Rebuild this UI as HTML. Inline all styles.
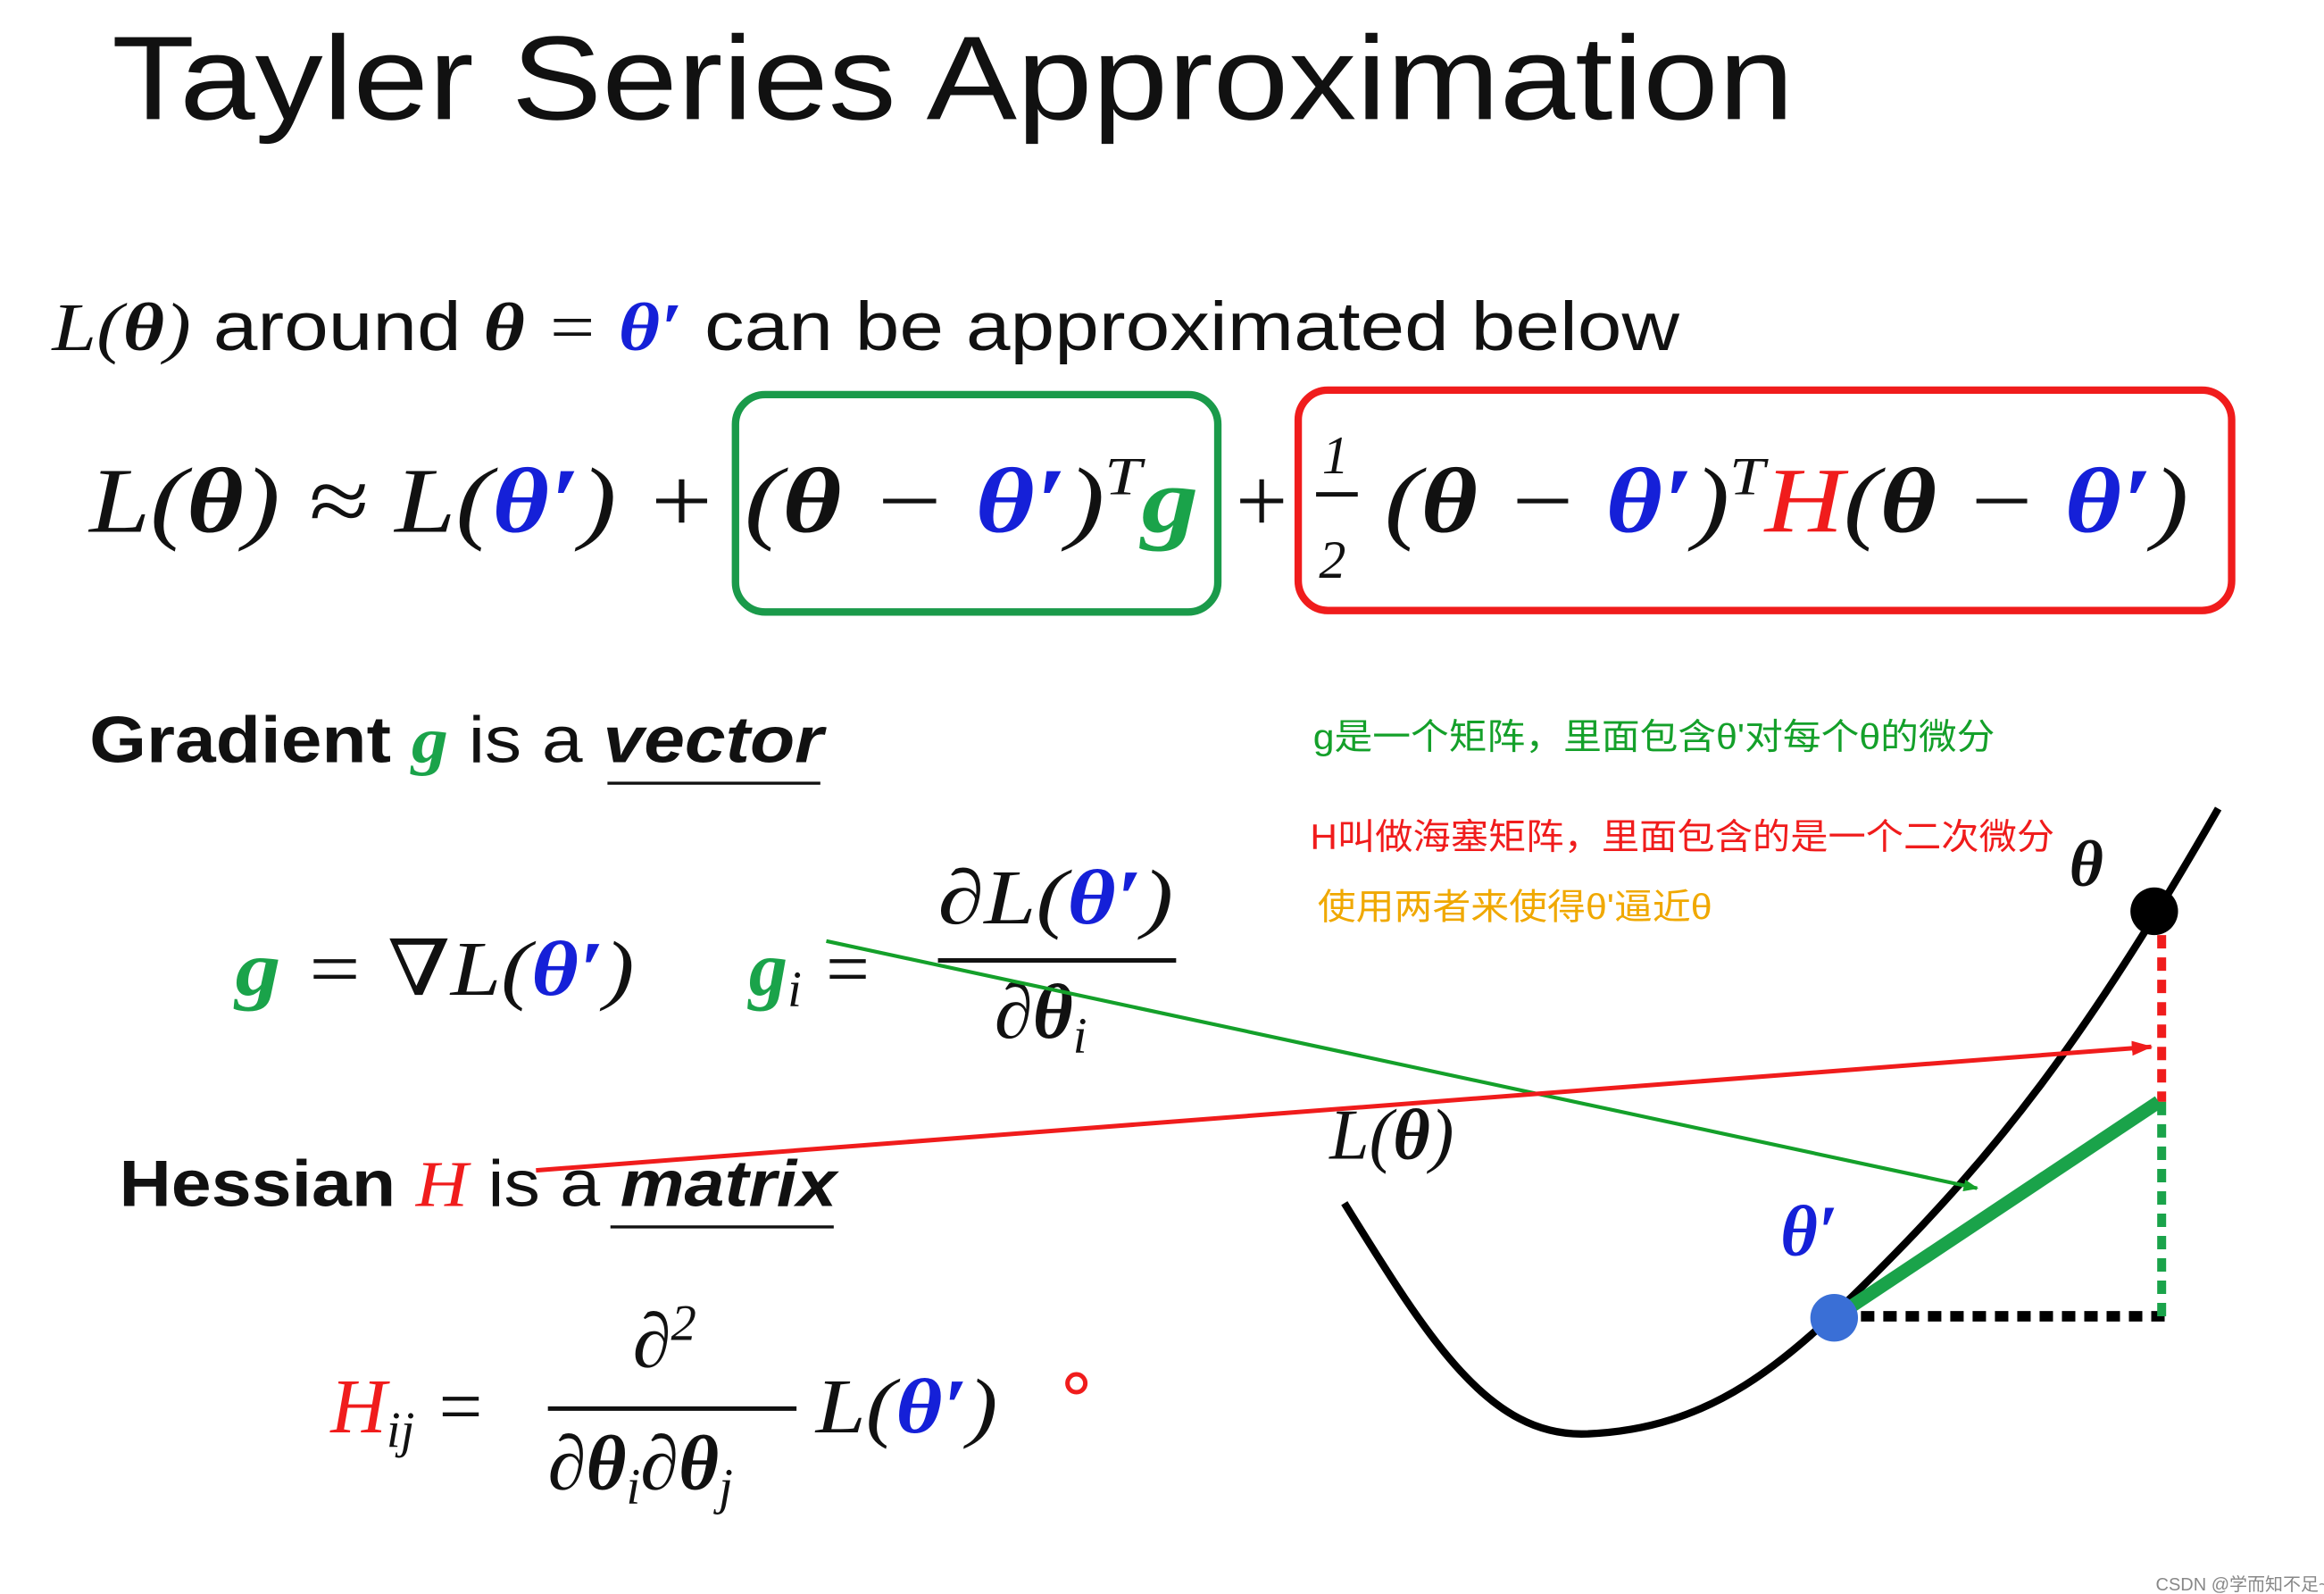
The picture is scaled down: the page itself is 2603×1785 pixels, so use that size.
<!DOCTYPE html>
<html><head><meta charset="utf-8"><style>
html,body{margin:0;padding:0;background:#fff;}
svg{display:block}
.m{font-family:"Liberation Serif","DejaVu Serif",serif;font-style:italic}
.s{font-family:"Liberation Sans","DejaVu Sans",sans-serif}
.c{font-family:"Liberation Sans","Noto Sans CJK SC",sans-serif}
</style></head><body>
<svg width="2603" height="1785" viewBox="0 0 1561 1070.5" xmlns="http://www.w3.org/2000/svg">
<defs>
<marker id="ag" markerWidth="10" markerHeight="8" refX="9" refY="4" orient="auto" markerUnits="userSpaceOnUse"><path d="M0,0 L10,4 L0,8z" fill="#14a02a"/></marker>
<marker id="ar" markerWidth="14" markerHeight="10" refX="13" refY="5" orient="auto" markerUnits="userSpaceOnUse"><path d="M0,0 L14,5 L0,10z" fill="#f01c1c"/></marker>
</defs>
<text x="75" y="80" class="s" font-size="80" fill="#111" textLength="1130" lengthAdjust="spacingAndGlyphs">Tayler Series Approximation</text>

<text x="35" y="235" font-size="46" fill="#111" textLength="1093" lengthAdjust="spacingAndGlyphs"><tspan class="m">L</tspan><tspan class="m">(</tspan><tspan class="m" font-weight="bold">θ</tspan><tspan class="m">)</tspan><tspan class="s"> around </tspan><tspan class="m" font-weight="bold">θ</tspan><tspan class="m"> = </tspan><tspan class="m" font-weight="bold" fill="#1520d8">θ′</tspan><tspan class="s"> can be approximated below</tspan></text>

<rect x="494" y="265" width="324" height="146" rx="20" fill="none" stroke="#1a9a4a" stroke-width="5"/>
<rect x="872" y="262" width="627" height="148" rx="20" fill="none" stroke="#f01c1c" stroke-width="5"/>
<text x="60" y="357" font-size="62" fill="#111" class="m" textLength="422" lengthAdjust="spacingAndGlyphs">L(<tspan font-weight="bold">θ</tspan>) ≈ L(<tspan font-weight="bold" fill="#1520d8">θ′</tspan>) +</text>
<text x="500" y="357" font-size="62" fill="#111" class="m" textLength="305" lengthAdjust="spacingAndGlyphs">(<tspan font-weight="bold">θ</tspan> − <tspan font-weight="bold" fill="#1520d8">θ′</tspan>)<tspan dy="-25" font-size="36">T</tspan><tspan dy="25" font-weight="bold" fill="#1aa34a">g</tspan></text>
<text x="826" y="357" font-size="62" fill="#111" class="m">+</text>
<text x="930" y="357" font-size="62" fill="#111" class="m" textLength="540" lengthAdjust="spacingAndGlyphs">(<tspan font-weight="bold">θ</tspan> − <tspan font-weight="bold" fill="#1520d8">θ′</tspan>)<tspan dy="-25" font-size="36">T</tspan><tspan dy="25" fill="#f01c1c">H</tspan>(<tspan font-weight="bold">θ</tspan> − <tspan font-weight="bold" fill="#1520d8">θ′</tspan>)</text>
<text x="888" y="318" font-size="36" class="m" fill="#111">1</text>
<line x1="884" y1="332" x2="912" y2="332" stroke="#111" stroke-width="3"/>
<text x="886" y="388" font-size="36" class="m" fill="#111">2</text>

<text x="60" y="512" font-size="44" class="s" font-weight="bold" fill="#111" textLength="493" lengthAdjust="spacingAndGlyphs">Gradient <tspan class="m" fill="#1aa34a">g</tspan> <tspan font-weight="normal">is a</tspan> <tspan font-style="italic">vector</tspan></text>
<line x1="408" y1="526" x2="551" y2="526" stroke="#111" stroke-width="2"/>

<text x="158" y="668" font-size="52" class="m" fill="#111" textLength="268" lengthAdjust="spacingAndGlyphs"><tspan font-weight="bold" fill="#1aa34a">g</tspan> = ∇L(<tspan font-weight="bold" fill="#1520d8">θ′</tspan>)</text>
<text x="503" y="668" font-size="52" class="m" fill="#111"><tspan font-weight="bold" fill="#1aa34a">g</tspan><tspan font-size="34" dy="8">i</tspan><tspan dy="-8"> =</tspan></text>
<text x="630" y="620" font-size="52" class="m" fill="#111" textLength="158" lengthAdjust="spacingAndGlyphs">∂L(<tspan font-weight="bold" fill="#1520d8">θ′</tspan>)</text>
<line x1="630" y1="645" x2="790" y2="645" stroke="#111" stroke-width="3"/>
<text x="668" y="697" font-size="52" class="m" fill="#111">∂<tspan font-weight="bold">θ</tspan><tspan font-size="34" dy="10">i</tspan></text>

<text x="80" y="810" font-size="44" class="s" font-weight="bold" fill="#111" textLength="482" lengthAdjust="spacingAndGlyphs">Hessian <tspan class="m" font-weight="normal" fill="#f01c1c">H</tspan> <tspan font-weight="normal">is a</tspan> <tspan font-style="italic">matrix</tspan></text>
<line x1="410" y1="824" x2="560" y2="824" stroke="#111" stroke-width="2"/>

<text x="222" y="962" font-size="52" class="m" fill="#f01c1c">H<tspan font-size="34" dy="10" fill="#111">ij</tspan><tspan dy="-10" fill="#111"> =</tspan></text>
<text x="425" y="918" font-size="52" class="m" fill="#111">∂<tspan font-size="34" dy="-18">2</tspan></text>
<line x1="368" y1="946" x2="535" y2="946" stroke="#111" stroke-width="3"/>
<text x="368" y="1000" font-size="52" class="m" fill="#111">∂<tspan font-weight="bold">θ</tspan><tspan font-size="34" dy="10">i</tspan><tspan dy="-10">∂</tspan><tspan font-weight="bold">θ</tspan><tspan font-size="34" dy="10">j</tspan></text>
<text x="548" y="962" font-size="52" class="m" fill="#111" textLength="122" lengthAdjust="spacingAndGlyphs">L(<tspan font-weight="bold" fill="#1520d8">θ′</tspan>)</text>
<circle cx="723" cy="929" r="6" fill="none" stroke="#f01c1c" stroke-width="3"/>

<text x="882" y="503" font-size="24" class="c" fill="#14a02a" textLength="458" lengthAdjust="spacingAndGlyphs">g是一个矩阵，里面包含θ'对每个θ的微分</text>
<text x="880" y="570" font-size="24" class="c" fill="#f01c1c" textLength="500" lengthAdjust="spacingAndGlyphs">H叫做海塞矩阵，里面包含的是一个二次微分</text>
<text x="885" y="617" font-size="24" class="c" fill="#f0a800" textLength="265" lengthAdjust="spacingAndGlyphs">使用两者来使得θ'逼近θ</text>

<path d="M903,808 C960,900 1000,965 1065,963 C1150,960 1200,915 1260,855 C1340,775 1400,700 1490,543" fill="none" stroke="#000" stroke-width="5"/>
<line x1="1250" y1="884" x2="1458" y2="884" stroke="#000" stroke-width="7" stroke-dasharray="9 6"/>
<line x1="1452" y1="628" x2="1452" y2="740" stroke="#f01c1c" stroke-width="6" stroke-dasharray="9 6"/>
<line x1="1452" y1="740" x2="1452" y2="884" stroke="#1aa34a" stroke-width="6" stroke-dasharray="9 6"/>
<line x1="1232" y1="885" x2="1450" y2="740" stroke="#1aa34a" stroke-width="9"/>
<line x1="555" y1="632" x2="1328" y2="798" stroke="#14a02a" stroke-width="2.5" marker-end="url(#ag)"/>
<line x1="360" y1="786" x2="1445" y2="703" stroke="#f01c1c" stroke-width="3" marker-end="url(#ar)"/>
<circle cx="1447" cy="612" r="16" fill="#000"/>
<circle cx="1232" cy="885" r="16" fill="#3a6fd6"/>
<text x="1390" y="595" font-size="44" class="m" font-weight="bold" fill="#111">θ</text>
<text x="893" y="778" font-size="48" class="m" fill="#111">L(<tspan font-weight="bold">θ</tspan>)</text>
<text x="1196" y="843" font-size="48" class="m" font-weight="bold" fill="#1520d8">θ′</text>
<text x="1448" y="1068" font-size="12" class="c" fill="#888">CSDN @学而知不足~</text>
</svg>
</body></html>
